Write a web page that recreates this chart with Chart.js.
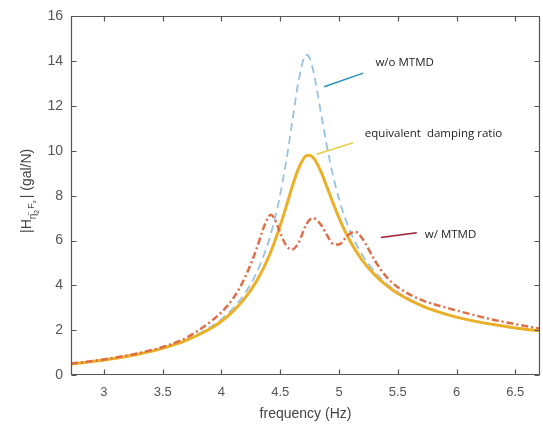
<!DOCTYPE html>
<html>
<head>
<meta charset="utf-8">
<script src="https://cdn.jsdelivr.net/npm/chart.js@4.4.0/dist/chart.umd.min.js"></script>
<style>
  html, body { margin: 0; padding: 0; background: #fff; }
  #wrap { width: 543px; height: 427px; }
</style>
</head>
<body>
<div id="wrap"><canvas id="myChart" width="543" height="427"></canvas></div>
<script>
// frequency (Hz)
var freq = [2.72, 2.9, 3.1, 3.3, 3.5, 3.7, 3.9, 4.0, 4.1, 4.2, 4.3, 4.35, 4.4, 4.42, 4.45, 4.5, 4.55, 4.6, 4.65, 4.7, 4.72, 4.75, 4.78, 4.8, 4.85, 4.9, 4.95, 5.0, 5.05, 5.1, 5.14, 5.2, 5.3, 5.4, 5.5, 5.7, 5.9, 6.1, 6.3, 6.5, 6.71];

// w/o MTMD (blue dashed)
var woMTMD = [0.50, 0.60, 0.76, 0.95, 1.21, 1.58, 2.12, 2.49, 2.99, 3.64, 4.57, 5.20, 5.94, 6.30, 6.88, 8.06, 9.51, 11.21, 12.94, 14.12, 14.29, 14.15, 13.60, 13.09, 11.59, 10.13, 8.88, 7.85, 7.03, 6.35, 5.90, 5.34, 4.63, 4.10, 3.70, 3.13, 2.75, 2.47, 2.26, 2.10, 1.97];

// equivalent damping ratio (yellow solid)
var equivDamping = [0.49, 0.60, 0.75, 0.94, 1.19, 1.54, 2.05, 2.40, 2.85, 3.43, 4.20, 4.69, 5.25, 5.50, 5.91, 6.67, 7.50, 8.37, 9.14, 9.67, 9.78, 9.81, 9.70, 9.56, 9.03, 8.35, 7.66, 7.01, 6.43, 5.92, 5.57, 5.10, 4.49, 4.01, 3.64, 3.10, 2.73, 2.46, 2.26, 2.10, 1.97];

// w/ MTMD (red dash-dot)
var wMTMD = [0.51, 0.62, 0.78, 0.98, 1.25, 1.66, 2.35, 2.80, 3.42, 4.35, 5.65, 6.45, 7.05, 7.15, 6.98, 6.35, 5.78, 5.60, 5.85, 6.45, 6.70, 6.92, 7.00, 6.96, 6.68, 6.22, 5.85, 5.82, 6.08, 6.33, 6.38, 6.08, 5.15, 4.40, 3.92, 3.35, 3.02, 2.74, 2.48, 2.27, 2.07];

var xTicks = [3, 3.5, 4, 4.5, 5, 5.5, 6, 6.5];
var yTicks = [0, 2, 4, 6, 8, 10, 12, 14, 16];

// annotation pointers, in data units
var notes = [
  { text: 'w/o MTMD', tx: 5.31, ty: 13.8, x1: 4.874, y1: 12.86, x2: 5.206, y2: 13.47, color: '#2b8fb8' },
  { text: 'equivalent  damping ratio', tx: 5.22, ty: 10.6, x1: 4.809, y1: 9.85, x2: 5.121, y2: 10.36, color: '#e6cf45' },
  { text: 'w/ MTMD', tx: 5.73, ty: 6.1, x1: 5.357, y1: 6.14, x2: 5.661, y2: 6.35, color: '#9b1b30' }
];

function pts(arr) {
  return freq.map(function (f, i) { return { x: f, y: arr[i] }; });
}

var frame = {
  id: 'frame',
  afterDatasetsDraw: function (chart) {
    var ctx = chart.ctx, x = chart.scales.x, y = chart.scales.y;
    ctx.save();
    notes.forEach(function (n) {
      ctx.strokeStyle = n.color;
      ctx.lineWidth = 1.5;
      ctx.beginPath();
      ctx.moveTo(x.getPixelForValue(n.x1), y.getPixelForValue(n.y1));
      ctx.lineTo(x.getPixelForValue(n.x2), y.getPixelForValue(n.y2));
      ctx.stroke();
      ctx.fillStyle = '#222';
      ctx.font = '11.5px "Open Sans", sans-serif';
      ctx.textBaseline = 'alphabetic';
      ctx.fillText(n.text, x.getPixelForValue(n.tx), y.getPixelForValue(n.ty));
    });
    ctx.restore();
  },
  afterDraw: function (chart) {
    var ctx = chart.ctx, a = chart.chartArea, x = chart.scales.x, y = chart.scales.y;
    var l = Math.round(a.left) + 0.5, r = Math.round(a.right) - 0.5;
    var t = Math.round(a.top) + 0.5, b = Math.round(a.bottom) - 0.5;
    ctx.save();
    ctx.strokeStyle = '#555';
    ctx.lineWidth = 1.2;
    ctx.setLineDash([]);
    ctx.beginPath();
    ctx.moveTo(l, t); ctx.lineTo(r, t); ctx.lineTo(r, b); ctx.lineTo(l, b); ctx.closePath();
    xTicks.forEach(function (v) {
      var px = Math.round(x.getPixelForValue(v)) + 0.5;
      ctx.moveTo(px, b); ctx.lineTo(px, b - 5);
      ctx.moveTo(px, t); ctx.lineTo(px, t + 5);
    });
    yTicks.forEach(function (v) {
      var py = Math.round(y.getPixelForValue(v)) + 0.5;
      ctx.moveTo(l, py); ctx.lineTo(l + 5, py);
      ctx.moveTo(r, py); ctx.lineTo(r - 5, py);
    });
    ctx.stroke();

    // y axis title with subscripts
    ctx.translate(31, 233);
    ctx.rotate(-Math.PI / 2);
    ctx.fillStyle = '#444';
    ctx.textBaseline = 'alphabetic';
    var cx = 0;
    ctx.font = '14px "Liberation Sans", Arial, sans-serif';
    ctx.fillText('|H', cx, 0); cx += ctx.measureText('|H').width;
    ctx.font = '10px "Liberation Sans", Arial, sans-serif';
    ctx.fillText('\u03B7\u0308', cx, 5); cx += ctx.measureText('\u03B7').width;
    ctx.font = '7px "Liberation Sans", Arial, sans-serif';
    ctx.fillText('2', cx, 8); cx += ctx.measureText('2').width + 1;
    ctx.font = '9px "Liberation Sans", Arial, sans-serif';
    ctx.fillText('F', cx, 3); cx += ctx.measureText('F').width;
    ctx.font = '6px "Liberation Sans", Arial, sans-serif';
    ctx.fillText('z', cx, 5); cx += ctx.measureText('z').width + 2;
    ctx.font = '14px "Liberation Sans", Arial, sans-serif';
    ctx.fillText('| (gal/N)', cx, 0);
    ctx.restore();
  }
};

var ctx = document.getElementById('myChart').getContext('2d');
var chart = new Chart(ctx, {
  type: 'line',
  data: {
    datasets: [
      {
        label: 'w/ MTMD',
        data: pts(wMTMD),
        borderColor: 'rgb(222,110,72)',
        borderWidth: 2.5,
        borderDash: [7, 3, 2, 3],
        pointRadius: 0,
        cubicInterpolationMode: 'monotone',
        order: 1
      },
      {
        label: 'equivalent damping ratio',
        data: pts(equivDamping),
        borderColor: 'rgb(236,176,40)',
        borderWidth: 3,
        pointRadius: 0,
        cubicInterpolationMode: 'monotone',
        order: 2
      },
      {
        label: 'w/o MTMD',
        data: pts(woMTMD),
        borderColor: 'rgb(150,195,228)',
        borderWidth: 1.8,
        borderDash: [8, 5],
        pointRadius: 0,
        cubicInterpolationMode: 'monotone',
        order: 3
      }
    ]
  },
  options: {
    responsive: false,
    animation: false,
    layout: { padding: { top: 14, right: 3, left: 0, bottom: 0 } },
    plugins: { legend: { display: false }, tooltip: { enabled: false } },
    scales: {
      x: {
        type: 'linear',
        min: 2.72,
        max: 6.71,
        afterBuildTicks: function (s) { s.ticks = xTicks.map(function (v) { return { value: v }; }); },
        afterFit: function (s) { s.height = 52; },
        grid: { display: false, drawTicks: false },
        border: { display: false },
        ticks: {
          color: '#555',
          font: { size: 13, family: '"Liberation Sans", Arial, sans-serif' },
          padding: 10,
          maxRotation: 0,
          callback: function (v) { return String(v); }
        },
        title: { display: true, text: 'frequency (Hz)', color: '#444', font: { size: 14, family: '"Liberation Sans", Arial, sans-serif' }, padding: { top: 2, bottom: 4 } }
      },
      y: {
        type: 'linear',
        min: 0,
        max: 16,
        afterBuildTicks: function (s) { s.ticks = yTicks.map(function (v) { return { value: v }; }); },
        afterFit: function (s) { s.width = 71; },
        grid: { display: false, drawTicks: false },
        border: { display: false },
        ticks: { color: '#555', font: { size: 14, family: '"Liberation Sans", Arial, sans-serif' }, padding: 8 }
      }
    }
  },
  plugins: [frame]
});
</script>
</body>
</html>
